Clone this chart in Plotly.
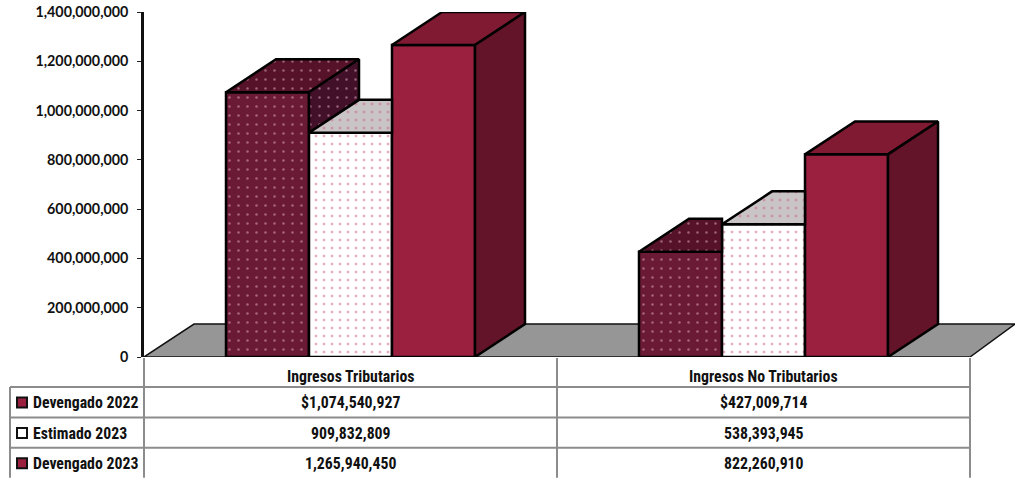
import plotly.graph_objects as go

categories = ["Ingresos Tributarios", "Ingresos No Tributarios"]
series_names = ["Devengado 2022", "Estimado 2023", "Devengado 2023"]
devengado_2022 = [1074540927, 427009714]
estimado_2023 = [909832809, 538393945]
devengado_2023 = [1265940450, 822260910]
y_ticks = [0, 200000000, 400000000, 600000000, 800000000, 1000000000, 1200000000, 1400000000]

W, H = 1015, 478
L, R0, Y0, Y1 = 144, 1015, 357, 11.5
CAT_PX = 413
BAR_PX = 83
DX_PX, DY_PX = 50, 33
YMAX = 1400000000
dx = DX_PX / CAT_PX
dy = DY_PX * YMAX / (Y0 - Y1)
bw = BAR_PX / CAT_PX
bargap = 1 - 3 * bw
xr = [-0.5, -0.5 + (R0 - L) / CAT_PX]

series = [devengado_2022, estimado_2023, devengado_2023]
styles = [
    dict(front="#6b1a35", top="#551229", side="#43102a", fg="#eab4c4", shape=".", size=9, sol=0.06),
    dict(front="#ffffff", top="#c9c5c6", side="#c9c5c6", fg="#cc6484", shape=".", size=8, sol=0.11),
    dict(front="#9b2040", top="#801a33", side="#631429", fg=None, shape="", size=8, sol=0.1),
]

def px(x): return (x - L) / (R0 - L)
def py(y): return (Y0 - y) / (Y0 - Y1)

fig = go.Figure()
for s, st, name in zip(series, styles, series_names):
    m = dict(color=st["front"], line=dict(color="#000000", width=2.5))
    if st["shape"]:
        m["pattern"] = dict(shape=st["shape"], fgcolor=st["fg"], bgcolor=st["front"], size=st["size"], solidity=st["sol"])
    fig.add_trace(go.Bar(x=[0, 1], y=s, name=name, marker=m, width=bw, hoverinfo="skip"))

def face(xs, ys, fill, st):
    kw = {}
    if st["shape"]:
        kw["fillpattern"] = dict(shape=st["shape"], fgcolor=st["fg"], bgcolor=fill, size=st["size"], solidity=st["sol"])
    fig.add_trace(go.Scatter(x=xs + xs[:1], y=ys + ys[:1], mode="lines", fill="toself", fillcolor=fill,
                             line=dict(color="#000000", width=2.5), hoverinfo="skip", cliponaxis=False, **kw))

for c in range(2):
    for i in range(3):
        st = styles[i]
        h = series[i][c]
        x0 = c - 1.5 * bw + i * bw
        x1 = x0 + bw
        nxt = series[i + 1][c] if i < 2 else None
        if nxt is not None and nxt >= h:
            # the next, taller column hides this column's side and cuts its top
            face([x0, x1, x1, x0 + dx], [h, h, h + dy, h + dy], st["top"], st)
        else:
            face([x0, x1, x1 + dx, x0 + dx], [h, h, h + dy, h + dy], st["top"], st)
            low = nxt if nxt is not None else 0
            face([x1, x1 + dx, x1 + dx, x1], [h, h + dy, low + dy, low], st["side"], st)

# floor
shapes = [dict(type="path", xref="x", yref="y", layer="below",
               path=f"M -0.5,0 L {-0.5 + dx},{dy} L {xr[1]},{dy} L 1.5,0 Z",
               fillcolor="#969696", line=dict(color="#111111", width=1.5))]

GRID = "#8c8c8c"
def line(x0, y0, x1, y1):
    shapes.append(dict(type="line", xref="paper", yref="paper", x0=px(x0), x1=px(x1), y0=py(y0), y1=py(y1),
                       line=dict(color=GRID, width=2)))
for y in [387, 417.5, 448]:
    line(10, y, 970, y)
line(10, 387, 10, 478)
line(144, 358, 144, 478)
line(557, 358, 557, 478)
line(970, 358, 970, 478)

annotations = []
FONT = "Roboto Condensed"
def label(x, y, text, anchor="center", size=15.8):
    annotations.append(dict(text=f"<b>{text}</b>", xref="paper", yref="paper", x=px(x), y=py(y), showarrow=False,
                            xanchor=anchor, yanchor="middle", font=dict(family=FONT, size=size, color="#111111")))

col_x = [350.5, 763.5]
for cx, cat in zip(col_x, categories):
    label(cx, 377, cat)
row_c = [403, 433.5, 464]
key_fill = ["#9b2040", "#ffffff", "#9b2040"]
for r, (s, name) in enumerate(zip(series, series_names)):
    label(31, row_c[r], name, "left")
    shapes.append(dict(type="rect", xref="paper", yref="paper", x0=px(17), x1=px(27), y0=py(row_c[r] + 4.5), y1=py(row_c[r] - 5.5),
                       fillcolor=key_fill[r], line=dict(color="#111111", width=2)))
    for c in range(2):
        prefix = "$" if r == 0 else ""
        label(col_x[c], row_c[r], f"{prefix}{s[c]:,}")

fig.update_layout(
    width=W, height=H, margin=dict(l=L, r=W - R0, t=Y1, b=H - Y0),
    paper_bgcolor="#ffffff", plot_bgcolor="#ffffff", showlegend=False,
    barmode="group", bargap=bargap, bargroupgap=0,
    shapes=shapes, annotations=annotations,
    xaxis=dict(range=xr, visible=False, fixedrange=True),
    yaxis=dict(range=[0, YMAX], tickvals=y_ticks, tickformat=",", showgrid=False, zeroline=False,
               showline=True, linecolor="#111111", linewidth=2.5, ticks="outside", ticklen=4, tickwidth=1,
               tickcolor="#222222", ticklabelstandoff=6,
               tickfont=dict(family="Lato", size=14.3, color="#111111", weight=700),
               fixedrange=True),
)
fig.write_html("out.html", config=dict(displayModeBar=False),
               post_script="document.body.style.margin='0';document.body.style.overflow='hidden';")
